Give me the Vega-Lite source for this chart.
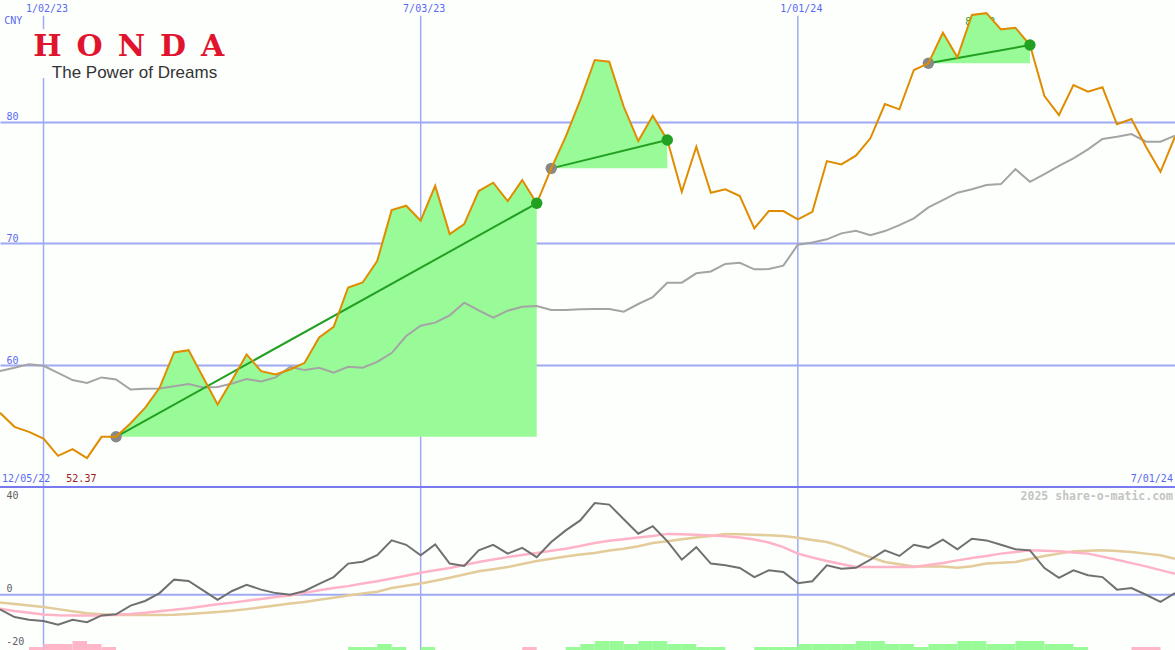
{
  "$schema": "https://vega.github.io/schema/vega-lite/v6.json",
  "width": 1175,
  "height": 650,
  "autosize": {"type": "none"},
  "padding": 0,
  "background": "#fdfffd",
  "config": {
    "view": {"stroke": null},
    "text": {"font": "DejaVu Sans Mono", "fontSize": 10}
  },
  "datasets": {
    "grid": [{"date": "2023-01-02"}, {"date": "2023-07-03"}, {"date": "2024-01-01"}],
    "trades": [
      {"trade": 1, "buyDate": "2023-02-06", "buyPrice": 54.12, "sellDate": "2023-08-28", "sellPrice": 73.3},
      {"trade": 2, "buyDate": "2023-09-04", "buyPrice": 76.17, "sellDate": "2023-10-30", "sellPrice": 78.5},
      {"trade": 3, "buyDate": "2024-03-04", "buyPrice": 84.8, "sellDate": "2024-04-22", "sellPrice": 86.3}
    ],
    "weekly": [
      {"date": "2022-12-12", "price": 56.09, "ma": 59.52, "mom": -6.3, "sig": -6.0, "slow": -3.3},
      {"date": "2022-12-19", "price": 54.94, "ma": 59.79, "mom": -9.6, "sig": -7.0, "slow": -4.0},
      {"date": "2022-12-26", "price": 54.53, "ma": 60.09, "mom": -10.8, "sig": -7.8, "slow": -4.6},
      {"date": "2023-01-02", "price": 53.98, "ma": 59.95, "mom": -11.3, "sig": -8.5, "slow": -5.3},
      {"date": "2023-01-09", "price": 52.56, "ma": 59.38, "mom": -12.9, "sig": -8.8, "slow": -6.2},
      {"date": "2023-01-16", "price": 53.11, "ma": 58.78, "mom": -10.8, "sig": -8.9, "slow": -7.1},
      {"date": "2023-01-23", "price": 52.37, "ma": 58.55, "mom": -11.8, "sig": -8.9, "slow": -8.0},
      {"date": "2023-01-30", "price": 54.12, "ma": 59.0, "mom": -8.9, "sig": -8.9, "slow": -8.4},
      {"date": "2023-02-06", "price": 54.12, "ma": 58.83, "mom": -8.4, "sig": -8.6, "slow": -8.7, "trade": 1},
      {"date": "2023-02-13", "price": 55.24, "ma": 58.01, "mom": -4.7, "sig": -8.3, "slow": -8.7, "trade": 1},
      {"date": "2023-02-20", "price": 56.5, "ma": 58.06, "mom": -2.7, "sig": -7.8, "slow": -8.7, "trade": 1},
      {"date": "2023-02-27", "price": 58.14, "ma": 58.09, "mom": 0.7, "sig": -7.1, "slow": -8.7, "trade": 1},
      {"date": "2023-03-06", "price": 61.05, "ma": 58.28, "mom": 6.5, "sig": -6.5, "slow": -8.6, "trade": 1},
      {"date": "2023-03-13", "price": 61.24, "ma": 58.45, "mom": 5.9, "sig": -5.8, "slow": -8.3, "trade": 1},
      {"date": "2023-03-20", "price": 59.02, "ma": 58.18, "mom": 1.9, "sig": -5.0, "slow": -7.9, "trade": 1},
      {"date": "2023-03-27", "price": 56.78, "ma": 58.22, "mom": -2.2, "sig": -4.1, "slow": -7.4, "trade": 1},
      {"date": "2023-04-03", "price": 58.78, "ma": 58.5, "mom": 1.6, "sig": -3.4, "slow": -6.9, "trade": 1},
      {"date": "2023-04-10", "price": 60.89, "ma": 58.86, "mom": 4.3, "sig": -2.6, "slow": -6.2, "trade": 1},
      {"date": "2023-04-17", "price": 59.51, "ma": 58.67, "mom": 2.2, "sig": -1.8, "slow": -5.4, "trade": 1},
      {"date": "2023-04-24", "price": 59.24, "ma": 59.0, "mom": 0.7, "sig": -1.0, "slow": -4.6, "trade": 1},
      {"date": "2023-05-01", "price": 59.65, "ma": 59.87, "mom": 0.0, "sig": -0.3, "slow": -3.8, "trade": 1},
      {"date": "2023-05-08", "price": 60.2, "ma": 59.6, "mom": 1.6, "sig": 0.8, "slow": -3.1, "trade": 1},
      {"date": "2023-05-15", "price": 62.28, "ma": 59.79, "mom": 4.7, "sig": 1.9, "slow": -2.2, "trade": 1},
      {"date": "2023-05-22", "price": 63.16, "ma": 59.38, "mom": 7.6, "sig": 2.9, "slow": -1.3, "trade": 1},
      {"date": "2023-05-29", "price": 66.39, "ma": 59.87, "mom": 13.4, "sig": 3.7, "slow": -0.3, "trade": 1},
      {"date": "2023-06-05", "price": 66.8, "ma": 59.79, "mom": 14.2, "sig": 4.8, "slow": 0.5, "trade": 1},
      {"date": "2023-06-12", "price": 68.55, "ma": 60.28, "mom": 17.0, "sig": 5.8, "slow": 1.3, "trade": 1},
      {"date": "2023-06-19", "price": 72.74, "ma": 61.0, "mom": 23.4, "sig": 7.0, "slow": 2.9, "trade": 1},
      {"date": "2023-06-26", "price": 73.1, "ma": 62.4, "mom": 21.5, "sig": 8.2, "slow": 3.9, "trade": 1},
      {"date": "2023-07-03", "price": 71.87, "ma": 63.25, "mom": 17.0, "sig": 9.5, "slow": 4.8, "trade": 1},
      {"date": "2023-07-10", "price": 74.74, "ma": 63.5, "mom": 21.7, "sig": 10.5, "slow": 6.0, "trade": 1},
      {"date": "2023-07-17", "price": 70.77, "ma": 64.1, "mom": 13.4, "sig": 11.5, "slow": 7.3, "trade": 1},
      {"date": "2023-07-24", "price": 71.59, "ma": 65.14, "mom": 12.4, "sig": 12.8, "slow": 8.7, "trade": 1},
      {"date": "2023-07-31", "price": 74.31, "ma": 64.5, "mom": 19.1, "sig": 14.1, "slow": 10.1, "trade": 1},
      {"date": "2023-08-07", "price": 74.99, "ma": 63.9, "mom": 21.5, "sig": 15.2, "slow": 11.0, "trade": 1},
      {"date": "2023-08-14", "price": 73.48, "ma": 64.48, "mom": 17.7, "sig": 16.2, "slow": 11.9, "trade": 1},
      {"date": "2023-08-21", "price": 75.21, "ma": 64.8, "mom": 20.2, "sig": 17.1, "slow": 13.2, "trade": 1},
      {"date": "2023-08-28", "price": 73.3, "ma": 64.87, "mom": 16.2, "sig": 18.0, "slow": 14.5, "trade": 1},
      {"date": "2023-09-04", "price": 76.17, "ma": 64.54, "mom": 22.7, "sig": 18.9, "slow": 15.5, "trade": 2},
      {"date": "2023-09-11", "price": 78.77, "ma": 64.54, "mom": 27.7, "sig": 19.8, "slow": 16.5, "trade": 2},
      {"date": "2023-09-18", "price": 81.78, "ma": 64.6, "mom": 32.0, "sig": 21.0, "slow": 17.3, "trade": 2},
      {"date": "2023-09-25", "price": 85.07, "ma": 64.62, "mom": 39.5, "sig": 22.3, "slow": 18.0, "trade": 2},
      {"date": "2023-10-02", "price": 84.93, "ma": 64.62, "mom": 38.8, "sig": 23.2, "slow": 19.0, "trade": 2},
      {"date": "2023-10-09", "price": 81.23, "ma": 64.4, "mom": 32.5, "sig": 23.9, "slow": 19.8, "trade": 2},
      {"date": "2023-10-16", "price": 78.41, "ma": 65.03, "mom": 26.3, "sig": 24.6, "slow": 20.9, "trade": 2},
      {"date": "2023-10-23", "price": 80.49, "ma": 65.6, "mom": 29.5, "sig": 25.3, "slow": 22.3, "trade": 2},
      {"date": "2023-10-30", "price": 78.5, "ma": 66.78, "mom": 23.1, "sig": 26.2, "slow": 23.0, "trade": 2},
      {"date": "2023-11-06", "price": 74.25, "ma": 66.78, "mom": 15.1, "sig": 26.0, "slow": 23.9},
      {"date": "2023-11-13", "price": 77.95, "ma": 67.55, "mom": 20.5, "sig": 25.8, "slow": 24.6},
      {"date": "2023-11-20", "price": 74.17, "ma": 67.7, "mom": 13.4, "sig": 25.5, "slow": 25.3},
      {"date": "2023-11-27", "price": 74.45, "ma": 68.32, "mom": 12.7, "sig": 25.2, "slow": 26.2},
      {"date": "2023-12-04", "price": 73.9, "ma": 68.42, "mom": 11.5, "sig": 24.6, "slow": 26.0},
      {"date": "2023-12-11", "price": 71.24, "ma": 67.88, "mom": 7.6, "sig": 23.8, "slow": 25.8},
      {"date": "2023-12-18", "price": 72.66, "ma": 67.9, "mom": 10.5, "sig": 22.5, "slow": 25.6},
      {"date": "2023-12-25", "price": 72.66, "ma": 68.18, "mom": 9.8, "sig": 20.5, "slow": 25.3},
      {"date": "2024-01-01", "price": 71.98, "ma": 69.9, "mom": 5.0, "sig": 17.7, "slow": 24.5},
      {"date": "2024-01-08", "price": 72.6, "ma": 70.09, "mom": 5.8, "sig": 16.0, "slow": 23.6},
      {"date": "2024-01-15", "price": 76.77, "ma": 70.34, "mom": 12.7, "sig": 14.5, "slow": 22.7},
      {"date": "2024-01-22", "price": 76.5, "ma": 70.83, "mom": 11.2, "sig": 13.2, "slow": 20.8},
      {"date": "2024-01-29", "price": 77.21, "ma": 71.04, "mom": 11.6, "sig": 11.9, "slow": 18.4},
      {"date": "2024-02-05", "price": 78.64, "ma": 70.69, "mom": 15.1, "sig": 11.9, "slow": 16.2},
      {"date": "2024-02-12", "price": 81.45, "ma": 71.02, "mom": 19.1, "sig": 11.9, "slow": 14.1},
      {"date": "2024-02-19", "price": 81.02, "ma": 71.51, "mom": 16.7, "sig": 11.9, "slow": 13.1},
      {"date": "2024-02-26", "price": 84.25, "ma": 72.06, "mom": 21.5, "sig": 11.9, "slow": 12.2},
      {"date": "2024-03-04", "price": 84.8, "ma": 72.97, "mom": 20.2, "sig": 12.8, "slow": 12.2, "trade": 3},
      {"date": "2024-03-11", "price": 87.31, "ma": 73.57, "mom": 23.7, "sig": 13.7, "slow": 12.2, "trade": 3},
      {"date": "2024-03-18", "price": 85.29, "ma": 74.17, "mom": 19.6, "sig": 14.8, "slow": 11.6, "trade": 3},
      {"date": "2024-03-25", "price": 88.77, "ma": 74.45, "mom": 24.1, "sig": 15.8, "slow": 12.3, "trade": 3},
      {"date": "2024-04-01", "price": 88.92, "ma": 74.8, "mom": 23.4, "sig": 16.7, "slow": 13.4, "trade": 3},
      {"date": "2024-04-08", "price": 87.59, "ma": 74.88, "mom": 21.5, "sig": 17.7, "slow": 13.8, "trade": 3},
      {"date": "2024-04-15", "price": 87.72, "ma": 76.11, "mom": 19.6, "sig": 18.4, "slow": 14.1, "trade": 3},
      {"date": "2024-04-22", "price": 86.3, "ma": 75.07, "mom": 19.1, "sig": 19.1, "slow": 15.4, "trade": 3},
      {"date": "2024-04-29", "price": 82.11, "ma": 75.7, "mom": 11.5, "sig": 18.9, "slow": 16.7},
      {"date": "2024-05-06", "price": 80.55, "ma": 76.38, "mom": 7.3, "sig": 18.7, "slow": 17.7},
      {"date": "2024-05-13", "price": 83.02, "ma": 76.99, "mom": 10.5, "sig": 18.2, "slow": 18.7},
      {"date": "2024-05-20", "price": 82.47, "ma": 77.73, "mom": 8.4, "sig": 17.7, "slow": 18.9},
      {"date": "2024-05-27", "price": 82.83, "ma": 78.58, "mom": 7.6, "sig": 16.4, "slow": 19.1},
      {"date": "2024-06-03", "price": 79.79, "ma": 78.77, "mom": 2.2, "sig": 15.1, "slow": 18.8},
      {"date": "2024-06-10", "price": 80.22, "ma": 78.99, "mom": 2.9, "sig": 13.6, "slow": 18.4},
      {"date": "2024-06-17", "price": 77.95, "ma": 78.36, "mom": 0.0, "sig": 12.2, "slow": 17.7},
      {"date": "2024-06-24", "price": 75.89, "ma": 78.36, "mom": -3.1, "sig": 10.6, "slow": 17.0},
      {"date": "2024-07-01", "price": 78.77, "ma": 78.85, "mom": 0.7, "sig": 9.0, "slow": 15.5}
    ],
    "bars": [
      {"date": "2022-12-26", "end": "2023-01-02", "level": 1, "dir": "neg"},
      {"date": "2023-01-02", "end": "2023-01-09", "level": 2, "dir": "neg"},
      {"date": "2023-01-09", "end": "2023-01-16", "level": 2, "dir": "neg"},
      {"date": "2023-01-16", "end": "2023-01-23", "level": 3, "dir": "neg"},
      {"date": "2023-01-23", "end": "2023-01-30", "level": 2, "dir": "neg"},
      {"date": "2023-01-30", "end": "2023-02-06", "level": 1, "dir": "neg"},
      {"date": "2023-05-29", "end": "2023-06-05", "level": 1, "dir": "pos"},
      {"date": "2023-06-05", "end": "2023-06-12", "level": 1, "dir": "pos"},
      {"date": "2023-06-12", "end": "2023-06-19", "level": 2, "dir": "pos"},
      {"date": "2023-06-19", "end": "2023-06-26", "level": 1, "dir": "pos"},
      {"date": "2023-07-03", "end": "2023-07-10", "level": 1, "dir": "pos"},
      {"date": "2023-08-21", "end": "2023-08-28", "level": 1, "dir": "neg"},
      {"date": "2023-09-11", "end": "2023-09-18", "level": 1, "dir": "pos"},
      {"date": "2023-09-18", "end": "2023-09-25", "level": 2, "dir": "pos"},
      {"date": "2023-09-25", "end": "2023-10-02", "level": 3, "dir": "pos"},
      {"date": "2023-10-02", "end": "2023-10-09", "level": 3, "dir": "pos"},
      {"date": "2023-10-09", "end": "2023-10-16", "level": 2, "dir": "pos"},
      {"date": "2023-10-16", "end": "2023-10-23", "level": 3, "dir": "pos"},
      {"date": "2023-10-23", "end": "2023-10-30", "level": 3, "dir": "pos"},
      {"date": "2023-10-30", "end": "2023-11-06", "level": 2, "dir": "pos"},
      {"date": "2023-11-06", "end": "2023-11-13", "level": 2, "dir": "pos"},
      {"date": "2023-11-13", "end": "2023-11-20", "level": 1, "dir": "pos"},
      {"date": "2023-11-20", "end": "2023-11-27", "level": 1, "dir": "pos"},
      {"date": "2023-12-11", "end": "2023-12-18", "level": 1, "dir": "pos"},
      {"date": "2023-12-18", "end": "2023-12-25", "level": 1, "dir": "pos"},
      {"date": "2023-12-25", "end": "2024-01-01", "level": 1, "dir": "pos"},
      {"date": "2024-01-01", "end": "2024-01-08", "level": 2, "dir": "pos"},
      {"date": "2024-01-08", "end": "2024-01-15", "level": 2, "dir": "pos"},
      {"date": "2024-01-15", "end": "2024-01-22", "level": 2, "dir": "pos"},
      {"date": "2024-01-22", "end": "2024-01-29", "level": 2, "dir": "pos"},
      {"date": "2024-01-29", "end": "2024-02-05", "level": 3, "dir": "pos"},
      {"date": "2024-02-05", "end": "2024-02-12", "level": 3, "dir": "pos"},
      {"date": "2024-02-12", "end": "2024-02-19", "level": 2, "dir": "pos"},
      {"date": "2024-02-19", "end": "2024-02-26", "level": 2, "dir": "pos"},
      {"date": "2024-02-26", "end": "2024-03-04", "level": 1, "dir": "pos"},
      {"date": "2024-03-04", "end": "2024-03-11", "level": 2, "dir": "pos"},
      {"date": "2024-03-11", "end": "2024-03-18", "level": 2, "dir": "pos"},
      {"date": "2024-03-18", "end": "2024-03-25", "level": 3, "dir": "pos"},
      {"date": "2024-03-25", "end": "2024-04-01", "level": 3, "dir": "pos"},
      {"date": "2024-04-01", "end": "2024-04-08", "level": 2, "dir": "pos"},
      {"date": "2024-04-08", "end": "2024-04-15", "level": 2, "dir": "pos"},
      {"date": "2024-04-15", "end": "2024-04-22", "level": 3, "dir": "pos"},
      {"date": "2024-04-22", "end": "2024-04-29", "level": 3, "dir": "pos"},
      {"date": "2024-04-29", "end": "2024-05-06", "level": 2, "dir": "pos"},
      {"date": "2024-05-06", "end": "2024-05-13", "level": 2, "dir": "pos"},
      {"date": "2024-05-13", "end": "2024-05-20", "level": 1, "dir": "pos"},
      {"date": "2024-06-10", "end": "2024-06-17", "level": 1, "dir": "neg"},
      {"date": "2024-06-17", "end": "2024-06-24", "level": 1, "dir": "neg"}
    ]
  },
  "layer": [
    {
      "layer": [
        {
          "data": {"name": "grid"},
          "mark": {"type": "rule", "color": "#a0aaf4", "strokeWidth": 1.5},
          "encoding": {
            "x": {
              "field": "date", "type": "temporal",
              "scale": {"type": "utc", "nice": false, "domain": [{"year": 2022, "month": 12, "date": 12, "utc": true}, {"year": 2024, "month": 7, "date": 1, "utc": true}]},
              "axis": {
                "orient": "top", "title": null,
                "values": [{"year": 2023, "month": 1, "date": 2, "utc": true}, {"year": 2023, "month": 7, "date": 3, "utc": true}, {"year": 2024, "month": 1, "date": 1, "utc": true}],
                "format": "%-m/%d/%y", "labelColor": "#5a6af0", "labelFont": "DejaVu Sans Mono", "labelFontSize": 10,
                "labelPadding": -3, "labelBaseline": "top", "labelOffset": 3, "labelFlush": false, "labelOverlap": false,
                "grid": false, "ticks": false, "domain": false
              }
            },
            "y": {
              "datum": 88.7, "type": "quantitative",
              "scale": {"domain": [36.61, 90], "nice": false, "zero": false},
              "axis": {
                "orient": "left", "title": null, "values": [60, 70, 80],
                "grid": true, "gridColor": "#a0aaf4", "gridWidth": 2,
                "domain": false, "ticks": false,
                "labelAlign": "left", "labelBaseline": "alphabetic", "labelPadding": -6, "labelOffset": -2,
                "labelColor": "#5a6af0", "labelFont": "DejaVu Sans Mono", "labelFontSize": 10
              }
            },
            "y2": {"datum": 36.61}
          }
        },
        {
          "data": {"values": [{"note": "logo"}]},
          "mark": {"type": "rect", "color": "#fdfffd"},
          "encoding": {
            "x": {"datum": {"year": 2022, "month": 12, "date": 27, "utc": true}, "type": "temporal"},
            "x2": {"datum": {"year": 2023, "month": 4, "date": 5, "utc": true}},
            "y": {"datum": 87.6, "type": "quantitative"},
            "y2": {"datum": 83.6}
          }
        },
        {
          "data": {"values": [{"note": "honda"}]},
          "mark": {"type": "text", "text": "H\u2002O\u2002N\u2002D\u2002A", "font": "DejaVu Serif", "fontWeight": "bold", "fontSize": 30, "color": "#e1142d", "align": "left", "baseline": "alphabetic"},
          "encoding": {
            "x": {"datum": {"year": 2022, "month": 12, "date": 28, "utc": true}, "type": "temporal"},
            "y": {"datum": 85.4, "type": "quantitative"}
          }
        },
        {
          "data": {"values": [{"note": "slogan"}]},
          "mark": {"type": "text", "text": "The Power of Dreams", "font": "Liberation Sans", "fontSize": 17, "color": "#333333", "align": "left", "baseline": "alphabetic"},
          "encoding": {
            "x": {"datum": {"year": 2023, "month": 1, "date": 6, "utc": true}, "type": "temporal"},
            "y": {"datum": 83.63, "type": "quantitative"}
          }
        },
        {
          "data": {"values": [{"note": "max"}]},
          "mark": {"type": "text", "text": "88.92", "color": "#28a028", "align": "center", "baseline": "alphabetic"},
          "encoding": {
            "x": {"datum": {"year": 2024, "month": 3, "date": 29, "utc": true}, "type": "temporal"},
            "y": {"datum": 87.95, "type": "quantitative"}
          }
        },
        {
          "data": {"name": "weekly"},
          "transform": [
            {"filter": "isValid(datum.trade)"},
            {"window": [{"op": "first_value", "field": "price", "as": "base"}], "groupby": ["trade"], "sort": [{"field": "date", "order": "ascending"}], "frame": [null, null]}
          ],
          "mark": {"type": "area", "color": "#98fb98", "opacity": 1},
          "encoding": {
            "x": {"field": "date", "type": "temporal"},
            "y": {"field": "price", "type": "quantitative"},
            "y2": {"field": "base"},
            "detail": {"field": "trade", "type": "nominal"}
          }
        },
        {
          "data": {"name": "weekly"},
          "mark": {"type": "line", "color": "#a4a4a4", "strokeWidth": 2},
          "encoding": {
            "x": {"field": "date", "type": "temporal"},
            "y": {"field": "ma", "type": "quantitative"}
          }
        },
        {
          "data": {"name": "trades"},
          "mark": {"type": "rule", "color": "#22a022", "strokeWidth": 2},
          "encoding": {
            "x": {"field": "buyDate", "type": "temporal"},
            "x2": {"field": "sellDate"},
            "y": {"field": "buyPrice", "type": "quantitative"},
            "y2": {"field": "sellPrice"}
          }
        },
        {
          "data": {"name": "trades"},
          "mark": {"type": "point", "filled": true, "color": "#888888", "size": 130, "opacity": 1},
          "encoding": {
            "x": {"field": "buyDate", "type": "temporal"},
            "y": {"field": "buyPrice", "type": "quantitative"}
          }
        },
        {
          "data": {"name": "weekly"},
          "mark": {"type": "line", "color": "#e08c00", "strokeWidth": 2},
          "encoding": {
            "x": {"field": "date", "type": "temporal"},
            "y": {"field": "price", "type": "quantitative"}
          }
        },
        {
          "data": {"name": "trades"},
          "mark": {"type": "point", "filled": true, "color": "#22a022", "size": 130, "opacity": 1},
          "encoding": {
            "x": {"field": "sellDate", "type": "temporal"},
            "y": {"field": "sellPrice", "type": "quantitative"}
          }
        },
        {
          "data": {"values": [{"note": "divider"}]},
          "mark": {"type": "rule", "color": "#7a7af0", "strokeWidth": 2},
          "encoding": {"y": {"datum": 50, "type": "quantitative"}}
        },
        {
          "data": {"values": [{"note": "cny"}]},
          "mark": {"type": "text", "text": "CNY", "color": "#5a6af0", "align": "left", "baseline": "alphabetic"},
          "encoding": {
            "x": {"datum": {"year": 2022, "month": 12, "date": 14, "utc": true}, "type": "temporal"},
            "y": {"datum": 88.0, "type": "quantitative"}
          }
        },
        {
          "data": {"values": [{"note": "start"}]},
          "mark": {"type": "text", "text": "12/05/22", "color": "#5a6af0", "align": "left", "baseline": "alphabetic"},
          "encoding": {
            "x": {"datum": {"year": 2022, "month": 12, "date": 13, "utc": true}, "type": "temporal"},
            "y": {"datum": 50.41, "type": "quantitative"}
          }
        },
        {
          "data": {"values": [{"note": "end"}]},
          "mark": {"type": "text", "text": "7/01/24", "color": "#5a6af0", "align": "right", "baseline": "alphabetic"},
          "encoding": {
            "x": {"datum": {"year": 2024, "month": 6, "date": 30, "utc": true}, "type": "temporal"},
            "y": {"datum": 50.41, "type": "quantitative"}
          }
        },
        {
          "data": {"values": [{"note": "min"}]},
          "mark": {"type": "text", "text": "52.37", "color": "#a01818", "align": "left", "baseline": "alphabetic"},
          "encoding": {
            "x": {"datum": {"year": 2023, "month": 1, "date": 13, "utc": true}, "type": "temporal"},
            "y": {"datum": 50.41, "type": "quantitative"}
          }
        }
      ]
    },
    {
      "layer": [
        {
          "data": {"values": [{"note": "zero"}]},
          "mark": {"type": "rule", "color": "#a0aaf4", "strokeWidth": 2},
          "encoding": {
            "y": {
              "datum": 0, "type": "quantitative",
              "scale": {"domain": [-23.8, 256.1], "nice": false, "zero": false},
              "axis": {
                "orient": "left", "title": null, "values": [40, 0],
                "grid": false, "domain": false, "ticks": false,
                "labelAlign": "left", "labelBaseline": "alphabetic", "labelPadding": -6, "labelOffset": -3,
                "labelColor": "#606060", "labelFont": "DejaVu Sans Mono", "labelFontSize": 10
              }
            }
          }
        },
        {
          "data": {"name": "weekly"},
          "mark": {"type": "line", "color": "#e3cb9a", "strokeWidth": 2.5},
          "encoding": {
            "x": {"field": "date", "type": "temporal"},
            "y": {"field": "slow", "type": "quantitative"}
          }
        },
        {
          "data": {"name": "weekly"},
          "mark": {"type": "line", "color": "#ffb3c6", "strokeWidth": 2.5},
          "encoding": {
            "x": {"field": "date", "type": "temporal"},
            "y": {"field": "sig", "type": "quantitative"}
          }
        },
        {
          "data": {"name": "weekly"},
          "mark": {"type": "line", "color": "#707070", "strokeWidth": 2},
          "encoding": {
            "x": {"field": "date", "type": "temporal"},
            "y": {"field": "mom", "type": "quantitative"}
          }
        },
        {
          "data": {"values": [{"note": "m20"}]},
          "mark": {"type": "text", "text": "-20", "color": "#606060", "align": "left", "baseline": "alphabetic"},
          "encoding": {
            "x": {"datum": {"year": 2022, "month": 12, "date": 15, "utc": true}, "type": "temporal"},
            "y": {"datum": -21.7, "type": "quantitative"}
          }
        },
        {
          "data": {"values": [{"note": "wm"}]},
          "mark": {"type": "text", "text": "2025 share-o-matic.com", "fontWeight": "bold", "fontSize": 11.5, "color": "#c4c4c4", "align": "right", "baseline": "alphabetic"},
          "encoding": {
            "x": {"datum": {"year": 2024, "month": 6, "date": 30, "utc": true}, "type": "temporal"},
            "y": {"datum": 40.8, "type": "quantitative"}
          }
        }
      ]
    },
    {
      "data": {"name": "bars"},
      "mark": {"type": "rect"},
      "encoding": {
        "x": {"field": "date", "type": "temporal"},
        "x2": {"field": "end"},
        "y": {"field": "level", "type": "quantitative", "scale": {"domain": [0, 216.67], "nice": false, "zero": true}, "axis": null},
        "y2": {"datum": 0},
        "color": {"field": "dir", "type": "nominal", "scale": {"domain": ["neg", "pos"], "range": ["#ffb6c8", "#98fb98"]}, "legend": null}
      }
    }
  ],
  "resolve": {"scale": {"y": "independent"}, "axis": {"y": "independent"}}
}
